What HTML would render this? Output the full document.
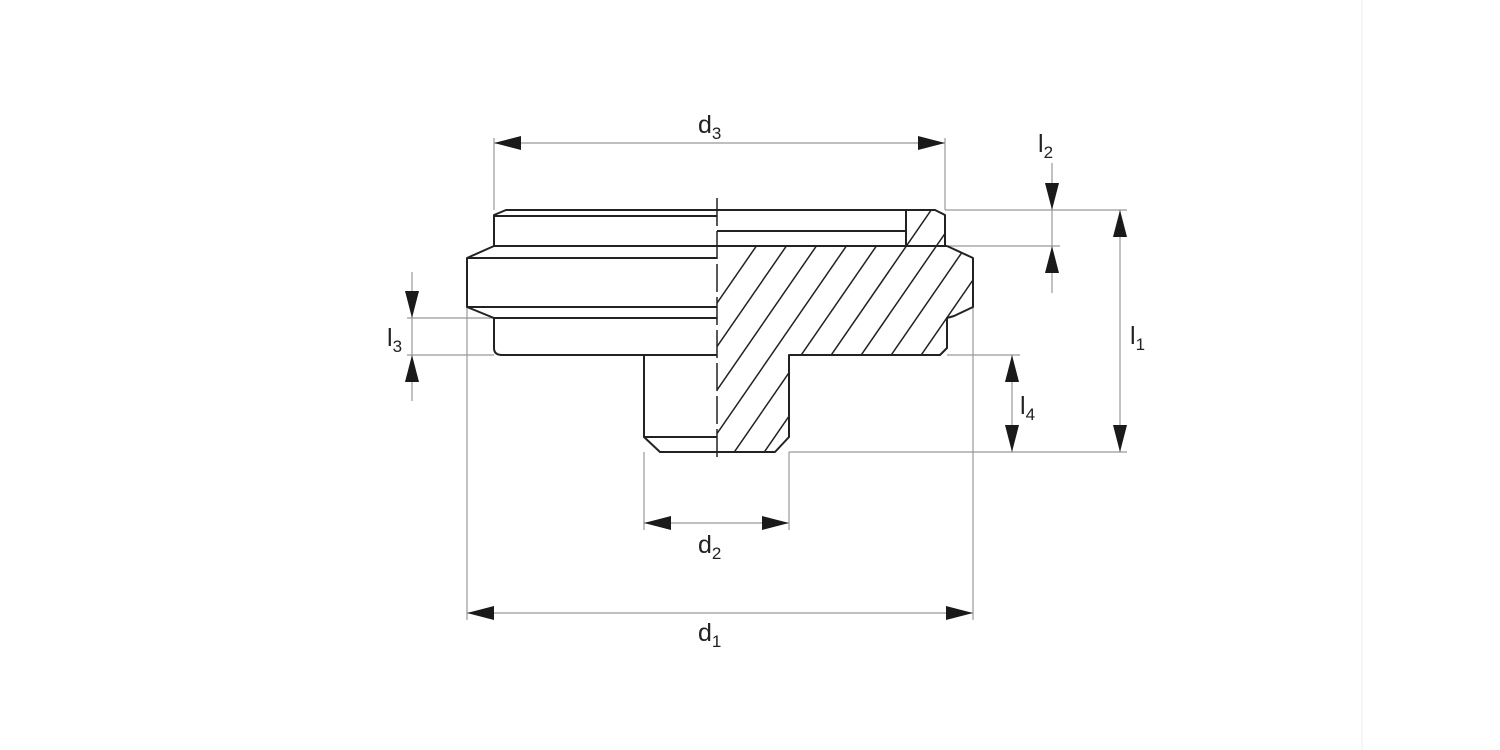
<!DOCTYPE html>
<html><head><meta charset="utf-8"><style>
html,body{margin:0;padding:0;background:#fff;}
svg{display:block;}
text{font-family:"Liberation Sans",Arial,sans-serif;fill:#222;}
</style></head><body>
<svg width="1500" height="750" viewBox="0 0 1500 750" xmlns="http://www.w3.org/2000/svg">
<defs>
<clipPath id="hc">
<polygon points="717,246 947,246 973,258 973,307 954,316 947,318 947,348 940,355 789,355 789,437 775,452 717,452"/>
<polygon points="906,210 935,210 945,215 945,246 906,246"/>
</clipPath>
</defs>
<line x1="1362" y1="0" x2="1362" y2="750" stroke="#eee" stroke-width="1"/>

<g stroke="#999" stroke-width="1.2" fill="none">
<line x1="494" y1="138" x2="494" y2="210"/>
<line x1="945" y1="138" x2="945" y2="210"/>
<line x1="494" y1="143" x2="945" y2="143"/>
<line x1="945" y1="210" x2="1127" y2="210"/>
<line x1="945" y1="246" x2="1060" y2="246"/>
<line x1="1052" y1="163" x2="1052" y2="293"/>
<line x1="1120" y1="210" x2="1120" y2="452"/>
<line x1="789" y1="452" x2="1127" y2="452"/>
<line x1="947" y1="355" x2="1020" y2="355"/>
<line x1="1012" y1="355" x2="1012" y2="452"/>
<line x1="412" y1="272" x2="412" y2="401"/>
<line x1="407" y1="318" x2="494" y2="318"/>
<line x1="407" y1="355" x2="494" y2="355"/>
<line x1="644" y1="452" x2="644" y2="530"/>
<line x1="789" y1="452" x2="789" y2="530"/>
<line x1="644" y1="523" x2="789" y2="523"/>
<line x1="467" y1="307" x2="467" y2="620"/>
<line x1="973" y1="307" x2="973" y2="620"/>
<line x1="467" y1="613" x2="973" y2="613"/>
</g>
<g fill="#1a1a1a">
<polygon points="494,143 521,136 521,150"/>
<polygon points="945,143 918,136 918,150"/>
<polygon points="1052,210 1045,183 1059,183"/>
<polygon points="1052,246 1045,273 1059,273"/>
<polygon points="1120,210 1113,237 1127,237"/>
<polygon points="1120,452 1113,425 1127,425"/>
<polygon points="1012,355 1005,382 1019,382"/>
<polygon points="1012,452 1005,425 1019,425"/>
<polygon points="412,318 405,291 419,291"/>
<polygon points="412,355 405,382 419,382"/>
<polygon points="644,523 671,516 671,530"/>
<polygon points="789,523 762,516 762,530"/>
<polygon points="467,613 494,606 494,620"/>
<polygon points="973,613 946,606 946,620"/>
</g>

<g clip-path="url(#hc)" stroke="#222" stroke-width="1.5">
<line x1="795" y1="190" x2="595" y2="480"/>
<line x1="825" y1="190" x2="625" y2="480"/>
<line x1="855" y1="190" x2="655" y2="480"/>
<line x1="885" y1="190" x2="685" y2="480"/>
<line x1="915" y1="190" x2="715" y2="480"/>
<line x1="945" y1="190" x2="745" y2="480"/>
<line x1="975" y1="190" x2="775" y2="480"/>
<line x1="1005" y1="190" x2="805" y2="480"/>
<line x1="1035" y1="190" x2="835" y2="480"/>
<line x1="1065" y1="190" x2="865" y2="480"/>
<line x1="1095" y1="190" x2="895" y2="480"/>
<line x1="1125" y1="190" x2="925" y2="480"/>
</g>

<g stroke="#222" stroke-width="2" fill="none" stroke-linejoin="round">
<polyline points="494,246 494,215 506,210 935,210 945,215 945,246"/>
<line x1="494" y1="216" x2="717" y2="216"/>
<polyline points="717,231 906,231"/>
<line x1="906" y1="210" x2="906" y2="246"/>
<line x1="494" y1="246" x2="947" y2="246"/>
<path d="M494,246 L467,258 L467,307 L494,318 L494,348 Q494,355 502,355 L717,355"/>
<line x1="467" y1="258" x2="717" y2="258"/>
<line x1="467" y1="307" x2="717" y2="307"/>
<line x1="494" y1="318" x2="717" y2="318"/>
<polyline points="947,246 973,258 973,307 954,316 947,318 947,348 940,355 789,355 789,437 775,452 717,452"/>
<polyline points="644,355 644,437 660,452 717,452"/>
<line x1="644" y1="437" x2="717" y2="437"/>
</g>
<line x1="717" y1="198" x2="717" y2="462" stroke="#222" stroke-width="1.5" stroke-dasharray="28,5"/>

<text x="698" y="133" font-size="25">d<tspan font-size="17" dy="6">3</tspan></text>
<text x="1038" y="152" font-size="25">l<tspan font-size="17" dy="6">2</tspan></text>
<text x="1130" y="344" font-size="25">l<tspan font-size="17" dy="6">1</tspan></text>
<text x="1020" y="414" font-size="25">l<tspan font-size="17" dy="6">4</tspan></text>
<text x="387" y="346" font-size="25">l<tspan font-size="17" dy="6">3</tspan></text>
<text x="698" y="553" font-size="25">d<tspan font-size="17" dy="6">2</tspan></text>
<text x="698" y="641" font-size="25">d<tspan font-size="17" dy="6">1</tspan></text>
</svg>
</body></html>
